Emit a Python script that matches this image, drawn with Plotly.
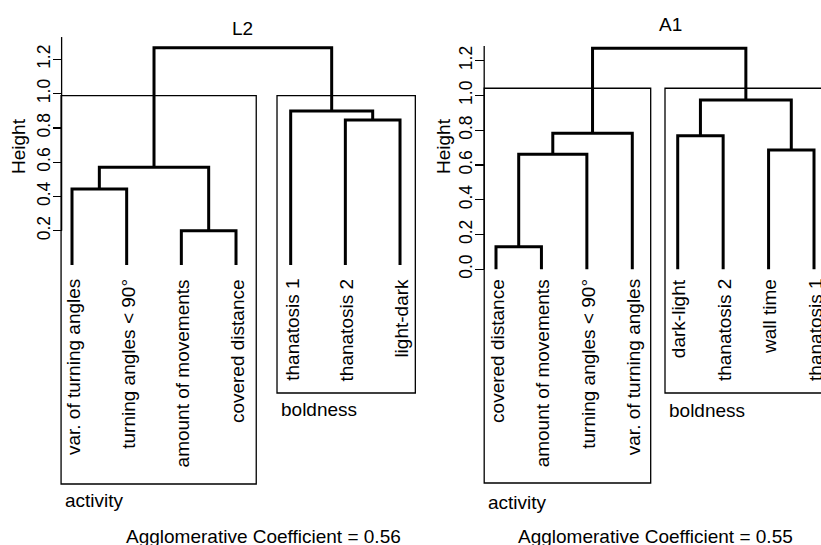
import plotly.graph_objects as go

# ---------------- data ----------------
L2_labels = ["var. of turning angles", "turning angles < 90°", "amount of movements",
             "covered distance", "thanatosis 1", "thanatosis 2", "light-dark"]
L2_merge = [(-1, -2), (-3, -4), (1, 2), (-6, -7), (-5, 4), (3, 5)]
L2_height = [0.443, 0.200, 0.570, 0.846, 0.898, 1.268]
L2_cut = 0.988
L2_groups = ["activity", "boldness"]
L2_group_leaves = [(1, 4), (5, 7)]
L2_ticks = [0.2, 0.4, 0.6, 0.8, 1.0, 1.2]
L2_ac = 0.56

A1_labels = ["covered distance", "amount of movements", "turning angles < 90°",
             "var. of turning angles", "dark-light", "thanatosis 2", "wall time", "thanatosis 1"]
A1_merge = [(-1, -2), (1, -3), (2, -4), (-5, -6), (-7, -8), (4, 5), (3, 6)]
A1_height = [0.130, 0.661, 0.782, 0.768, 0.686, 0.973, 1.271]
A1_cut = 1.041
A1_groups = ["activity", "boldness"]
A1_group_leaves = [(1, 4), (5, 8)]
A1_ticks = [0.0, 0.2, 0.4, 0.6, 0.8, 1.0, 1.2]
A1_ac = 0.55

# ---------------- layout helpers ----------------
W, H = 821, 545
FONT = "Arial, Liberation Sans, sans-serif"
FS = 19
TICK_FS = 17.5


def px2paper_x(px):
    return px / W


def px2paper_y(py):
    return 1 - py / H


def dendro_segments(merge, height):
    xs, ys, cx, ch = [], [], [], []

    def pos(k):
        if k < 0:
            return float(-k), 0.0
        return cx[k - 1], ch[k - 1]

    for (a, b), h in zip(merge, height):
        xa, ha = pos(a)
        xb, hb = pos(b)
        xs += [xa, xa, xb, xb, None]
        ys += [ha, h, h, hb, None]
        cx.append((xa + xb) / 2)
        ch.append(h)
    return xs, ys


# pixel calibration of each panel: leaf1 x, leaf spacing, zero-height y, px per unit
panels = [
    dict(name="L2", labels=L2_labels, merge=L2_merge, height=L2_height, cut=L2_cut,
         groups=L2_groups, gl=L2_group_leaves, ticks=L2_ticks, ac=L2_ac,
         dom_px=(0, 440), a=72.0, s=54.67, z=265.0, k=171.4,
         axis_x=0.81, axis_top=1.33,
         rect_pad=[(-0.20, 0.37), (-0.25, 0.28)], rect_bottom_px=[484, 393],
         grp_lab=[(63, 500), (279, 409)], title_xy=(242.5, 28), ac_xy=(263, 536),
         height_xy=(18, 146), xa="x", ya="y"),
    dict(name="A1", labels=A1_labels, merge=A1_merge, height=A1_height, cut=A1_cut,
         groups=A1_groups, gl=A1_group_leaves, ticks=A1_ticks, ac=A1_ac,
         dom_px=(440, W), a=496.0, s=45.43, z=269.3, k=173.9,
         axis_x=0.74, axis_top=1.284,
         rect_pad=[(-0.26, 0.405), (-0.28, 1.0)], rect_bottom_px=[483, 393],
         grp_lab=[(486, 502), (667, 410)], title_xy=(670.5, 25), ac_xy=(655, 536),
         height_xy=(443, 146), xa="x2", ya="y2"),
]

fig = go.Figure()
annotations = []
shapes = []
layout = dict(width=W, height=H, margin=dict(l=0, r=0, t=0, b=0, pad=0),
              paper_bgcolor="white", plot_bgcolor="white", showlegend=False)

for i, p in enumerate(panels):
    sfx = "" if i == 0 else "2"
    p0, p1 = p["dom_px"]
    xr = [1 + (p0 - p["a"]) / p["s"], 1 + (p1 - p["a"]) / p["s"]]
    yr = [(p["z"] - H) / p["k"], p["z"] / p["k"]]
    xd = [px2paper_x(p0), px2paper_x(p1)]
    axis_px = p["a"] + (p["axis_x"] - 1) * p["s"]

    xs, ys = dendro_segments(p["merge"], p["height"])
    fig.add_trace(go.Scatter(x=xs, y=ys, mode="lines", xaxis=p["xa"], yaxis=p["ya"],
                             line=dict(color="black", width=3), hoverinfo="skip",
                             showlegend=False))
    # axis line
    shapes.append(dict(type="line", xref=p["xa"], yref=p["ya"], x0=p["axis_x"], x1=p["axis_x"],
                       y0=p["ticks"][0], y1=p["axis_top"], line=dict(color="black", width=1.3)))
    # cluster rectangles
    for (a, b), (pl, pr), yb in zip(p["gl"], p["rect_pad"], p["rect_bottom_px"]):
        shapes.append(dict(type="rect", xref=p["xa"], yref=p["ya"], x0=a + pl, x1=b + pr,
                           y0=(p["z"] - yb) / p["k"], y1=p["cut"],
                           line=dict(color="black", width=1.3), fillcolor="rgba(0,0,0,0)"))
    # leaf labels
    for j, lab in enumerate(p["labels"]):
        annotations.append(dict(text=lab, xref=p["xa"], yref="paper", x=j + 1 + 0.02,
                                y=px2paper_y(277), xanchor="center", yanchor="top", textangle=-90,
                                showarrow=False, font=dict(family=FONT, size=FS, color="black")))
    # group labels
    for g, (gx, gy) in zip(p["groups"], p["grp_lab"]):
        annotations.append(dict(text=g, xref="paper", yref="paper", x=px2paper_x(gx), y=px2paper_y(gy),
                                xanchor="left", yanchor="middle", showarrow=False,
                                font=dict(family=FONT, size=FS, color="black")))
    # title
    annotations.append(dict(text=p["name"], xref="paper", yref="paper",
                            x=px2paper_x(p["title_xy"][0]), y=px2paper_y(p["title_xy"][1]),
                            xanchor="center", yanchor="middle", showarrow=False,
                            font=dict(family=FONT, size=FS, color="black")))
    # agglomerative coefficient
    annotations.append(dict(text=f"Agglomerative Coefficient = {p['ac']:.2f}", xref="paper",
                            yref="paper", x=px2paper_x(p["ac_xy"][0]), y=px2paper_y(p["ac_xy"][1]),
                            xanchor="center", yanchor="middle", showarrow=False,
                            font=dict(family=FONT, size=FS, color="black")))
    # Height
    annotations.append(dict(text="Height", xref="paper", yref="paper",
                            x=px2paper_x(p["height_xy"][0]), y=px2paper_y(p["height_xy"][1]),
                            xanchor="center", yanchor="middle", textangle=-90, showarrow=False,
                            font=dict(family=FONT, size=FS, color="black")))

    layout["xaxis" + sfx] = dict(domain=xd, range=xr, visible=False,
                                 anchor="y" + sfx, fixedrange=True)
    layout["yaxis" + sfx] = dict(domain=[0, 1], range=yr, anchor="free",
                                 position=px2paper_x(axis_px),
                                 side="left", showgrid=False, zeroline=False, showline=False,
                                 ticks="outside", ticklen=9, tickwidth=1.3, tickcolor="black",
                                 tickvals=p["ticks"], ticktext=[f"{t:.1f}" for t in p["ticks"]],
                                 tickangle=-90, fixedrange=True, ticklabelstandoff=-4,
                                 tickfont=dict(family=FONT, size=TICK_FS, color="black"))

layout["annotations"] = annotations
layout["shapes"] = shapes
fig.update_layout(**layout)
fig.write_html("out.html", config={"displayModeBar": False, "staticPlot": True},
               post_script="document.body.style.margin='0';document.body.style.overflow='hidden';")
